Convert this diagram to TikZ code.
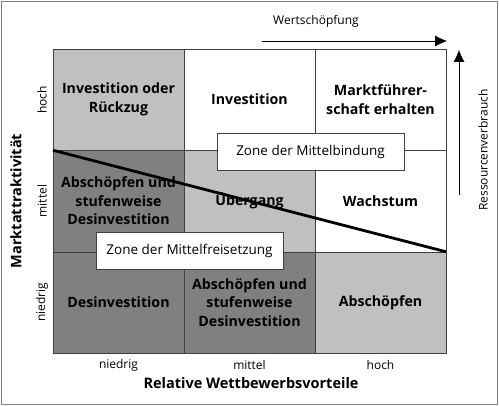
\documentclass[tikz,border=0pt]{standalone}
\usepackage{fontspec}
\setmainfont{Open Sans}
\usetikzlibrary{positioning,arrows.meta}
\definecolor{hellgrau}{RGB}{192,192,192}
\definecolor{dunkelgrau}{RGB}{128,128,128}
\definecolor{linie}{RGB}{64,64,64}

\begin{document}
\begin{tikzpicture}[x=1pt,y=-1pt,
  feld/.style={draw=linie, outer sep=0pt, inner sep=0pt, minimum width=131pt, minimum height=101.5pt,
    align=center, font=\bfseries\fontsize{14.2}{18.5}\selectfont},
  zone/.style={draw=linie, fill=white, minimum width=187pt, minimum height=37pt,
    font=\fontsize{13.5}{16}\selectfont},
  achse/.style={font=\fontsize{12}{14}\selectfont},
  titel/.style={font=\bfseries\fontsize{14.5}{16}\selectfont}]
\useasboundingbox (0,0) rectangle (499,406);
\draw[draw=gray] (1,1) rectangle (497,404);
% Matrix
\node[feld, fill=hellgrau] (c11) at (118.5,99.5) {Investition oder\\Rückzug};
\node[feld, fill=white] (c12) at (249.5,99.5) {Investition};
\node[feld, fill=white] (c13) at (380.5,99.5) {Marktführer-\\schaft erhalten};
\node[feld, fill=dunkelgrau] (c21) at (118.5,201) {Abschöpfen und\\stufenweise\\Desinvestition};
\node[feld, fill=hellgrau] (c22) at (249.5,201) {Übergang};
\node[feld, fill=white] (c23) at (380.5,201) {Wachstum};
\node[feld, fill=dunkelgrau] (c31) at (118.5,302.5) {Desinvestition};
\node[feld, fill=dunkelgrau] (c32) at (249.5,302.5) {Abschöpfen und\\stufenweise\\Desinvestition};
\node[feld, fill=hellgrau] (c33) at (380.5,302.5) {Abschöpfen};
\draw[line width=2.8pt] (c21.north west) -- (c23.south east);
\node[zone] (bindung) at (310.5,151.5) {Zone der Mittelbindung};
\node[zone] (freisetzung) at (189.5,251) {Zone der Mittelfreisetzung};
% Achsen
\node[achse, rotate=90] (hoch) at (42,100) {hoch};
\node[achse, rotate=90] (mittel) at (42,201) {mittel};
\node[achse, rotate=90] (niedrig) at (42,302.5) {niedrig};
\node[titel, rotate=90] (markt) at (16,201) {Marktattraktivität};
\node[achse] (xniedrig) at (118.5,365) {niedrig};
\node[achse] (xmittel) at (249.5,365) {mittel};
\node[achse] (xhoch) at (380.5,365) {hoch};
\node[titel] (wettbewerb) at (251,383) {Relative Wettbewerbsvorteile};
% Pfeile
\coordinate (ws1) at (262,41);
\coordinate (ws2) at (447,41);
\draw[-{Latex[length=12pt,width=11pt]}] (ws1) -- (ws2);
\node[achse] (wert) at (316,21) {Wertschöpfung};
\coordinate (rv1) at (459,195);
\coordinate (rv2) at (459,50);
\draw[-{Latex[length=12pt,width=11pt]}] (rv1) -- (rv2);
\node[achse, rotate=90] (ressourcen) at (483,150) {Ressourcenverbrauch};
\end{tikzpicture}
\end{document}
